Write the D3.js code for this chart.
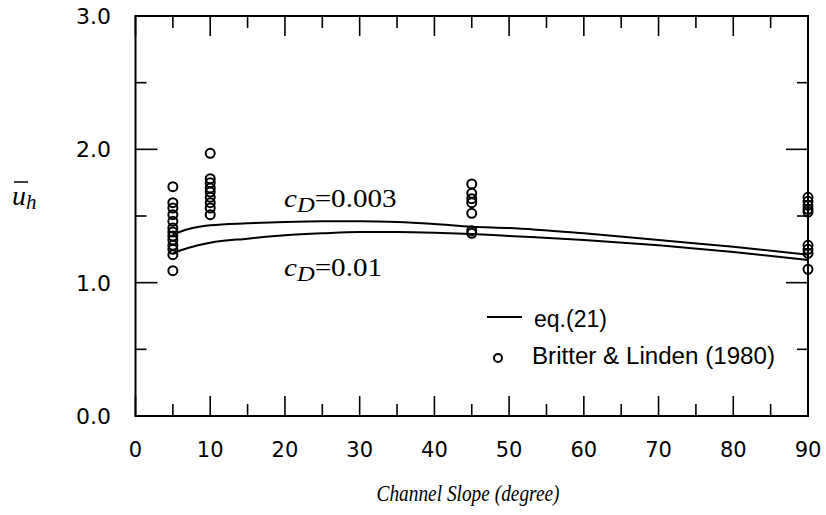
<!DOCTYPE html>
<html><head><meta charset="utf-8">
<script src="https://cdn.jsdelivr.net/npm/d3@7"></script>
<style>body{margin:0;background:#fff}</style>
</head><body><svg id="c" width="826" height="515"></svg>
<script>
const xTicks = [0,10,20,30,40,50,60,70,80,90];
const yTicks = [0.0,1.0,2.0,3.0];
const curveX = [5,7,10,15,20,25,30,35,40,45,50,60,70,80,90];
const curve003 = [1.36,1.40,1.43,1.445,1.455,1.46,1.46,1.455,1.44,1.42,1.41,1.37,1.32,1.27,1.21];
const curve001 = [1.22,1.26,1.30,1.33,1.355,1.37,1.38,1.38,1.375,1.365,1.35,1.32,1.28,1.23,1.17];
const obsSlope = [5,5,5,5,5,5,5,5,5,5,5,5,5,
  10,10,10,10,10,10,10,10,10,
  45,45,45,45,45,45,45,
  90,90,90,90,90,90,90,90,90];
const obsU = [1.72,1.60,1.56,1.51,1.46,1.41,1.38,1.35,1.32,1.28,1.25,1.21,1.09,
  1.97,1.78,1.75,1.71,1.68,1.64,1.60,1.56,1.51,
  1.74,1.67,1.63,1.60,1.52,1.39,1.37,
  1.64,1.61,1.58,1.55,1.53,1.28,1.25,1.22,1.10];

const svg = d3.select("#c");
const L=135.5, R=808, T=16, B=416;
const x = d3.scaleLinear().domain([0,90]).range([L,R]);
const y = d3.scaleLinear().domain([0,3]).range([B,T]);
const sans = "'Liberation Sans', Arial, sans-serif";
const tickFont = "'DejaVu Sans', sans-serif";
const serif = "'Liberation Serif', 'Times New Roman', serif";

// frame
svg.append("rect").attr("x",L).attr("y",T).attr("width",R-L).attr("height",B-T)
  .attr("fill","none").attr("stroke","#000").attr("stroke-width",2);

const xMin = d3.range(5,90,10);
const g = svg.append("g").attr("stroke","#000").attr("stroke-width",1.6);
xTicks.forEach(v=>{
  g.append("line").attr("x1",x(v)).attr("x2",x(v)).attr("y1",B).attr("y2",B-20);
  g.append("line").attr("x1",x(v)).attr("x2",x(v)).attr("y1",T).attr("y2",T+20);
});
xMin.forEach(v=>{
  g.append("line").attr("x1",x(v)).attr("x2",x(v)).attr("y1",B).attr("y2",B-12);
  g.append("line").attr("x1",x(v)).attr("x2",x(v)).attr("y1",T).attr("y2",T+12);
});
const yMin = [0.5,1.5,2.5];
yTicks.forEach(v=>{
  g.append("line").attr("x1",L).attr("x2",L+22).attr("y1",y(v)).attr("y2",y(v));
  g.append("line").attr("x1",R).attr("x2",R-22).attr("y1",y(v)).attr("y2",y(v));
});
yMin.forEach(v=>{
  g.append("line").attr("x1",L).attr("x2",L+11).attr("y1",y(v)).attr("y2",y(v));
  g.append("line").attr("x1",R).attr("x2",R-11).attr("y1",y(v)).attr("y2",y(v));
});

// tick labels
svg.append("g").selectAll("text").data(xTicks).join("text")
  .attr("x",d=>x(d)).attr("y",457).attr("text-anchor","middle")
  .attr("font-family",tickFont).attr("font-size",21).text(d=>d);
svg.append("g").selectAll("text").data(yTicks).join("text")
  .attr("x",111).attr("y",d=>y(d)+8).attr("text-anchor","end")
  .attr("font-family",tickFont).attr("font-size",22).text(d=>d.toFixed(1));

// axis titles
svg.append("text").attr("x",468).attr("y",501).attr("text-anchor","middle")
  .attr("font-family",serif).attr("font-style","italic").attr("font-size",24)
  .attr("textLength",183).attr("lengthAdjust","spacingAndGlyphs")
  .text("Channel Slope (degree)");
const yl = svg.append("text").attr("x",12).attr("y",205)
  .attr("font-family",serif).attr("font-style","italic").attr("font-size",28);
yl.append("tspan").text("u");
yl.append("tspan").attr("dy",4).attr("font-size",21).text("h");
svg.append("line").attr("x1",14).attr("x2",28).attr("y1",182).attr("y2",182)
  .attr("stroke","#000").attr("stroke-width",1.5);

// curves
const line = d3.line().x((d,i)=>x(curveX[i])).y(d=>y(d)).curve(d3.curveMonotoneX);
[curve003, curve001].forEach(c=>{
  svg.append("path").attr("d",line(c)).attr("fill","none")
    .attr("stroke","#000").attr("stroke-width",2);
});

// points
svg.append("g").selectAll("circle").data(obsU).join("circle")
  .attr("cx",(d,i)=>x(obsSlope[i])).attr("cy",d=>y(d)).attr("r",4.5)
  .attr("fill","none").attr("stroke","#000").attr("stroke-width",2);

// curve labels
function cdLabel(xp, yp, val){
  const t = svg.append("text").attr("transform",`translate(${xp},${yp}) scale(1.12,1)`)
    .attr("font-family",serif).attr("font-size",26);
  t.append("tspan").attr("font-style","italic").text("c");
  t.append("tspan").attr("font-style","italic").attr("dy",5).attr("font-size",22).text("D");
  t.append("tspan").attr("dy",-5).text("=" + val);
}
cdLabel(284, 207, "0.003");
cdLabel(284, 276, "0.01");

// legend
svg.append("line").attr("x1",487).attr("x2",522).attr("y1",317).attr("y2",317)
  .attr("stroke","#000").attr("stroke-width",2);
svg.append("text").attr("x",534).attr("y",327).attr("font-family",sans).attr("font-size",23).text("eq.(21)");
svg.append("circle").attr("cx",498).attr("cy",358).attr("r",4).attr("fill","none")
  .attr("stroke","#000").attr("stroke-width",2);
svg.append("text").attr("x",532).attr("y",364).attr("font-family",sans).attr("font-size",23)
  .attr("textLength",243).attr("lengthAdjust","spacingAndGlyphs").text("Britter & Linden (1980)");
</script></body></html>
